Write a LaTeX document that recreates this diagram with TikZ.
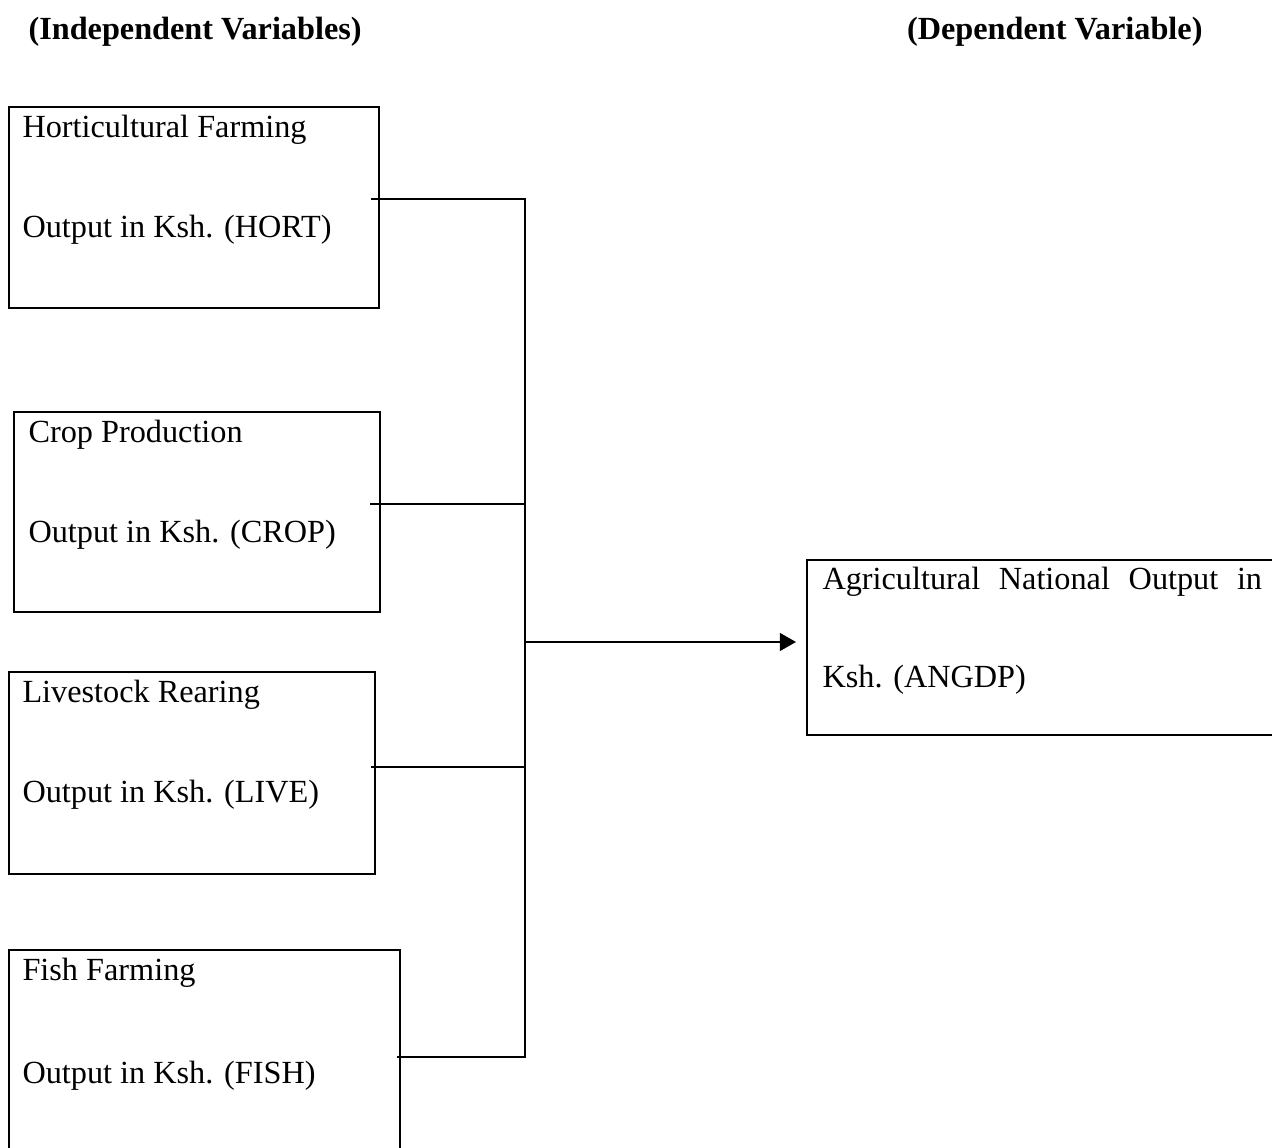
\documentclass[tikz,border=0pt]{standalone}
\usepackage{fontspec}
\setmainfont{Liberation Serif}
\usepackage{tikz}
\usetikzlibrary{arrows.meta, positioning, fit}

\tikzset{
  varbox/.style={draw, line width=1.1pt, inner sep=0pt},
  vartext/.style={anchor=base west, inner sep=0pt, font=\fontsize{12pt}{14pt}\selectfont},
  heading/.style={inner sep=0pt, font=\fontsize{12pt}{14pt}\selectfont\bfseries},
  link/.style={line width=0.8pt},
}

\begin{document}
\begin{tikzpicture}[x=0.372pt, y=-0.372pt]
  \useasboundingbox (0,0) rectangle (1272,1148);
  % headings
  \node[heading, anchor=base west] (indep) at (28,40) {(Independent Variables)};
  \node[heading, anchor=base east] (dep) at (1203,40) {(Dependent Variable)};
  % independent variable boxes
  \node[varbox, fit={(9,107) (379,308)}] (hort) {};
  \node[vartext] (hortname) at (22,138) {Horticultural Farming};
  \node[vartext] (hortout) at (22,238) {Output in Ksh. (HORT)};
  \node[varbox, fit={(14,412) (380,612)}] (crop) {};
  \node[vartext] (cropname) at (28,443) {Crop Production};
  \node[vartext] (cropout) at (28,543) {Output in Ksh. (CROP)};
  \node[varbox, fit={(9,672) (375,874)}] (live) {};
  \node[vartext] (livename) at (22,703) {Livestock Rearing};
  \node[vartext] (liveout) at (22,803) {Output in Ksh. (LIVE)};
  \node[varbox, fit={(9,950) (400,1170)}] (fish) {};
  \node[vartext] (fishname) at (22,981) {Fish Farming};
  \node[vartext] (fishout) at (22,1083) {Output in Ksh. (FISH)};
  % dependent variable box
  \node[varbox, fit={(807,560) (1290,735)}] (angdp) {};
  \node[vartext] (angdpname) at (822,590) {\makebox[163.5pt][s]{Agricultural National Output in}};
  \node[vartext] (angdpunit) at (822,688) {Ksh. (ANGDP)};
  % connectors
  \coordinate (hortend) at (371,199);
  \coordinate (cropend) at (370,504);
  \coordinate (liveend) at (371,767);
  \coordinate (fishend) at (397,1057);
  \coordinate (hortjoin) at (525,199);
  \coordinate (cropjoin) at (525,504);
  \coordinate (livejoin) at (525,767);
  \coordinate (fishjoin) at (525,1057);
  \coordinate (busout) at (525,642);
  \coordinate (tip) at (796,642);
  \draw[link] (hortend) -- (hortjoin) -- (fishjoin) -- (fishend);
  \draw[link] (cropend) -- (cropjoin);
  \draw[link] (liveend) -- (livejoin);
  \draw[link, -{Triangle[length=6pt, width=6.6pt]}] (busout) -- (tip);
\end{tikzpicture}
\end{document}
